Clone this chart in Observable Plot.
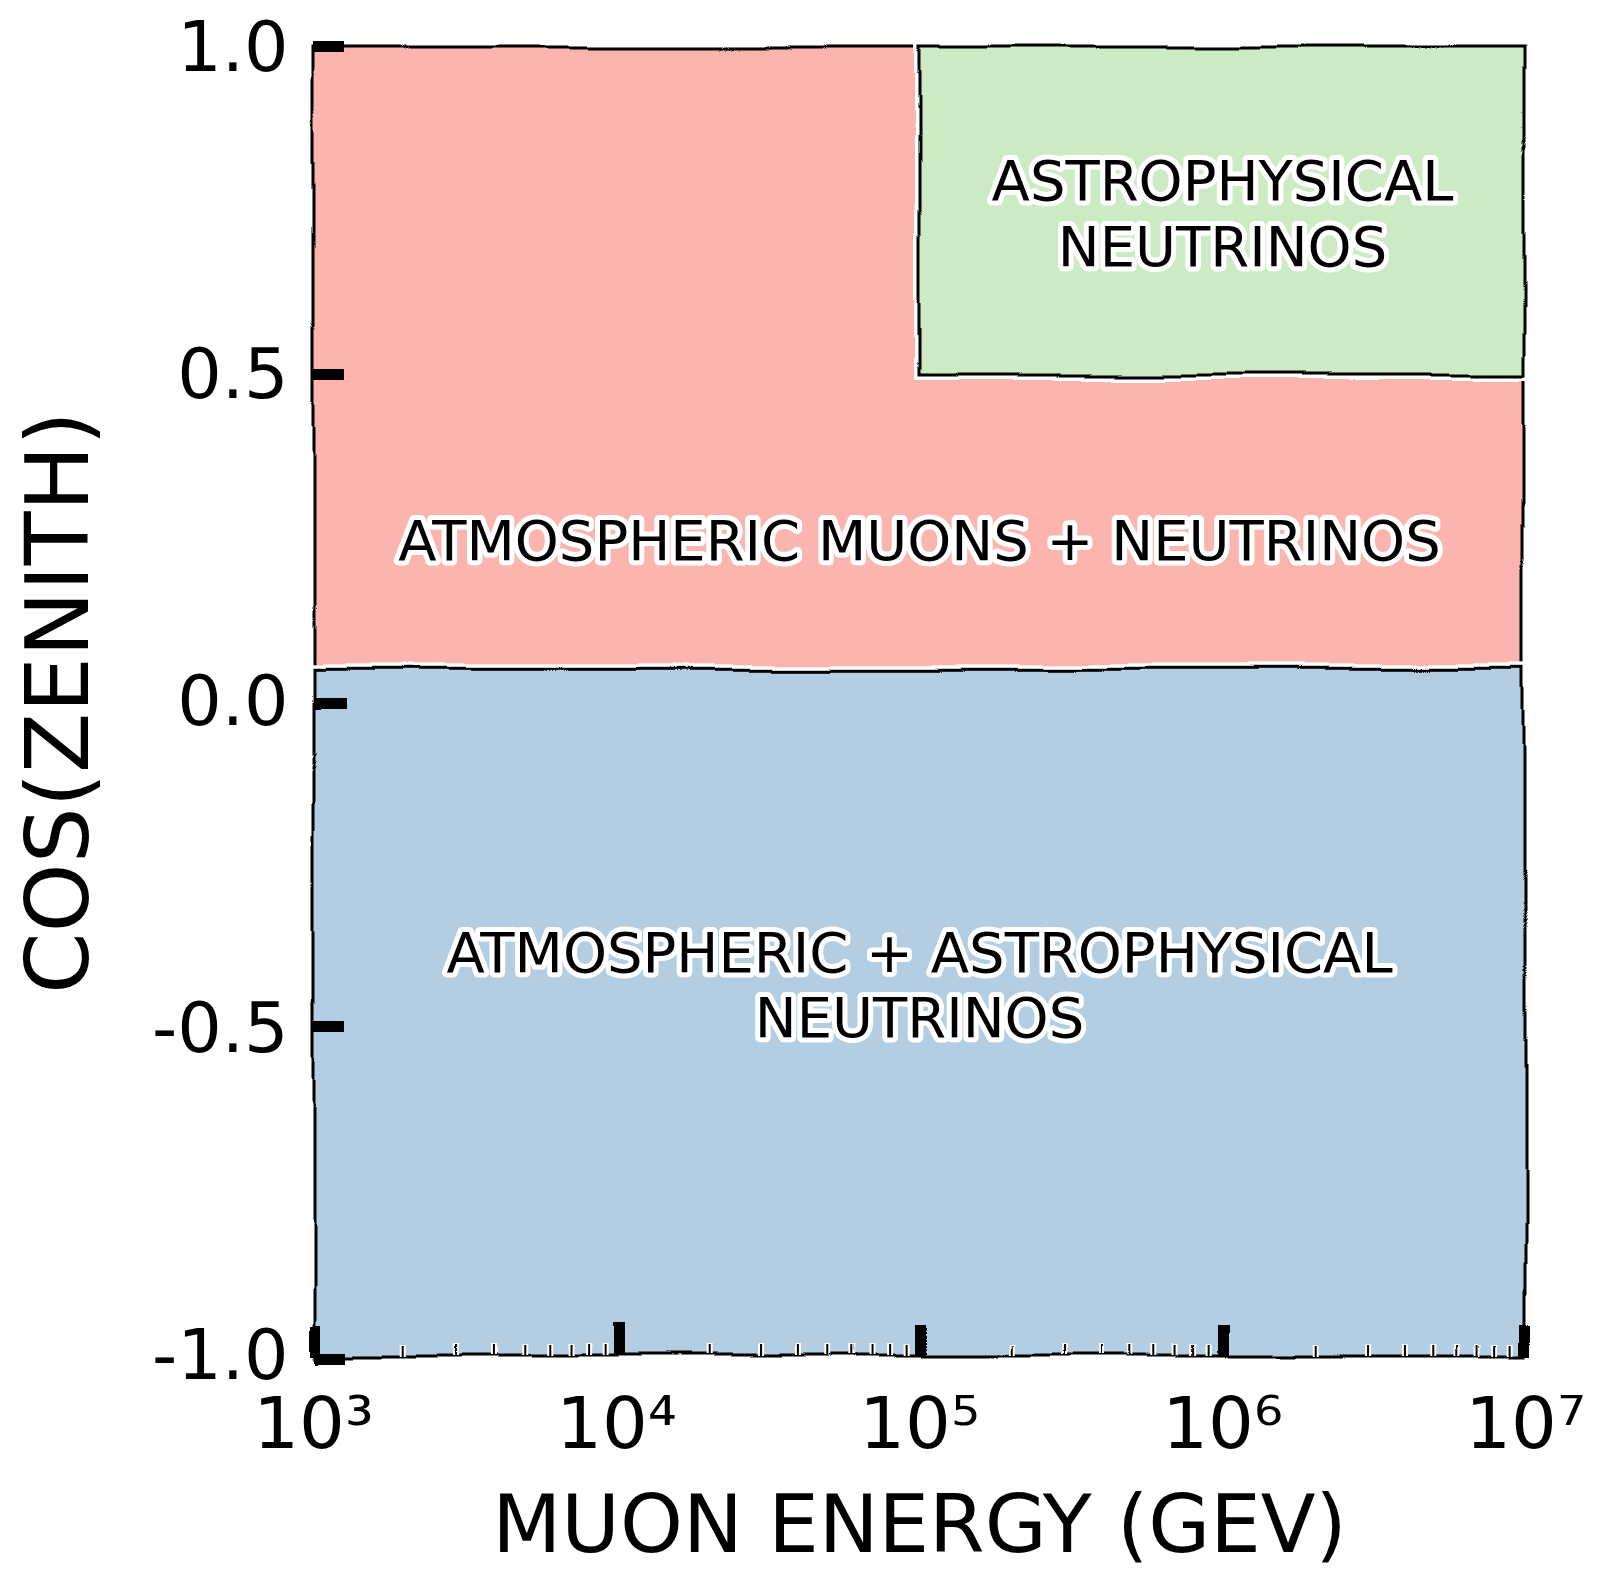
<!DOCTYPE html>
<html><head><meta charset="utf-8">
<script src="https://cdn.jsdelivr.net/npm/d3@7"></script>
<script src="https://cdn.jsdelivr.net/npm/@observablehq/plot@0.6"></script>
<style>
html,body{margin:0;padding:0;background:#fff;}
</style>
</head><body>
<div id="chart"></div>
<script>
// ---- data ----
const regionNames = ["Atmospheric muons + neutrinos", "Atmospheric + astrophysical neutrinos", "Astrophysical neutrinos"];
const energyMin = [1e3, 1e3, 1e5];
const energyMax = [1e7, 1e7, 1e7];
const cosMin = [0.05, -1, 0.5];
const cosMax = [1, 0.05, 1];

const labelText = ["ATMOSPHERIC MUONS + NEUTRINOS", "ATMOSPHERIC + ASTROPHYSICAL\nNEUTRINOS", "ASTROPHYSICAL\nNEUTRINOS"];
const labelEnergy = [1e5, 1e5, 1e6];
const labelCos = [0.25, -0.43, 0.75];

const xDomain = [1e3, 1e7];
const yDomain = [-1, 1];
const xTicks = [1e3, 1e4, 1e5, 1e6, 1e7];
const yTicks = [-1, -0.5, 0, 0.5, 1];
const xLabel = "MUON ENERGY (GEV)";
const yLabel = "COS(ZENITH)";

// ---- styles ----
const regionColors = ["#fbb4ae", "#b3cde3", "#ccebc5"];
const font = "DejaVu Sans";
const W = 1608, H = 1576;
const mL = 313, mR = 83, mT = 48, mB = 220;
const plotW = W - mL - mR, plotH = H - mT - mB;

const sup = {"0":"⁰","1":"¹","2":"²","3":"³","4":"⁴","5":"⁵","6":"⁶","7":"⁷","8":"⁸","9":"⁹"};
const fmtPow = d => "10" + String(Math.round(Math.log10(d))).split("").map(c => sup[c]).join("");

const regions = regionNames.map((name, i) => ({name, x1: energyMin[i], x2: energyMax[i], y1: cosMin[i], y2: cosMax[i]}));
const labels = labelText.map((t, i) => ({t, x: labelEnergy[i], y: labelCos[i]}));
const minorTicks = d3.scaleLog().domain(xDomain).ticks().filter(v => !xTicks.includes(v));

const marks = [];
regions.forEach((r, i) => {
  marks.push(Plot.rect([r], {x1: "x1", x2: "x2", y1: "y1", y2: "y2", fill: "none", stroke: "white", strokeWidth: 10}));
  marks.push(Plot.rect([r], {x1: "x1", x2: "x2", y1: "y1", y2: "y2", fill: regionColors[i], stroke: "black", strokeWidth: 3}));
});
marks.push(
  Plot.tickX(minorTicks, {x: d => d, stroke: "white", strokeWidth: 6, insetTop: plotH - 12}),
  Plot.tickX(minorTicks, {x: d => d, stroke: "black", strokeWidth: 2, insetTop: plotH - 11}),
  Plot.ruleX([xDomain[0]], {y1: yDomain[0], y2: yDomain[1], stroke: "black", strokeWidth: 5}),
  Plot.ruleY([yDomain[0]], {x1: xDomain[0], x2: xDomain[1], stroke: "black", strokeWidth: 5}),
  Plot.tickY(yTicks, {y: d => d, stroke: "black", strokeWidth: 11, insetRight: plotW - 32}),
  Plot.tickX(xTicks, {x: d => d, stroke: "black", strokeWidth: 11, insetTop: plotH - 32}),
  Plot.axisY({ticks: yTicks, tickSize: 0, tickPadding: 25, tickFormat: d => d.toFixed(1), fontSize: 70, fontFamily: font, label: null}),
  Plot.axisX({ticks: xTicks, tickSize: 0, tickPadding: 40, tickFormat: fmtPow, fontSize: 72, fontFamily: font, label: null}),
  Plot.text(labels, {x: "x", y: "y", text: "t", fontSize: 56, fontFamily: font, fill: "black", stroke: "white", strokeWidth: 10, paintOrder: "stroke", lineHeight: 1.17, textAnchor: "middle", lineAnchor: "middle"}),
  Plot.text([xLabel], {frameAnchor: "bottom", text: d => d, dy: 170, fontSize: 80, fontFamily: font, fill: "black", textAnchor: "middle", lineAnchor: "middle"}),
  Plot.text([yLabel], {frameAnchor: "left", text: d => d, dx: -254, rotate: -90, fontSize: 88, fontFamily: font, fill: "black", textAnchor: "middle", lineAnchor: "middle"})
);

const chart = Plot.plot({
  width: W, height: H,
  marginLeft: mL, marginRight: mR, marginTop: mT, marginBottom: mB,
  style: {fontFamily: font, background: "white", color: "black", overflow: "visible"},
  x: {type: "log", domain: xDomain, axis: null},
  y: {type: "linear", domain: yDomain, axis: null},
  marks
});
document.getElementById("chart").appendChild(chart);

// hand-drawn wobble on lines and shapes
const svg = d3.select(chart);
const defs = svg.insert("defs", ":first-child");
const f = defs.append("filter").attr("id", "wobble").attr("x", "-5%").attr("y", "-5%").attr("width", "110%").attr("height", "110%");
f.append("feTurbulence").attr("type", "fractalNoise").attr("baseFrequency", "0.005").attr("numOctaves", 2).attr("seed", 7).attr("result", "n");
f.append("feDisplacementMap").attr("in", "SourceGraphic").attr("in2", "n").attr("scale", 14).attr("xChannelSelector", "R").attr("yChannelSelector", "G");
svg.selectAll('g[aria-label="rect"], g[aria-label="rule"], g[aria-label="tick"]').attr("filter", "url(#wobble)");
</script>
</body></html>
